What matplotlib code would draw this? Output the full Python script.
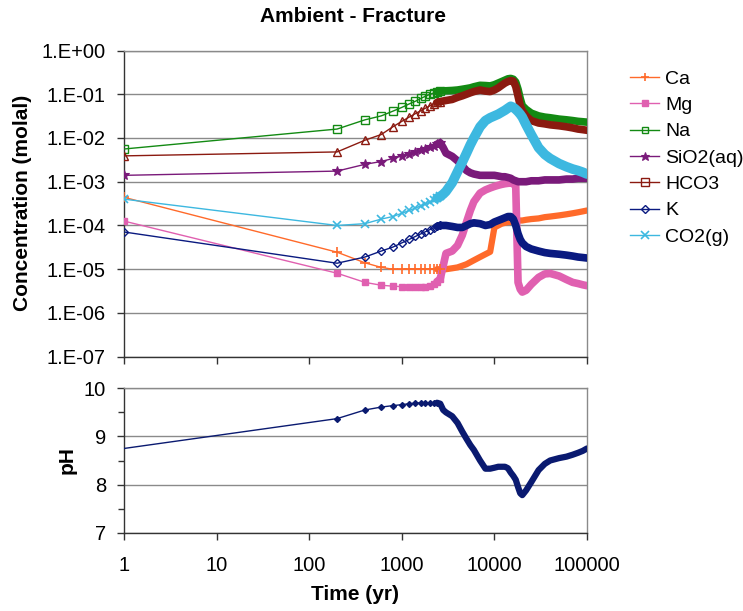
import numpy as np
import matplotlib
matplotlib.use("Agg")
import matplotlib.pyplot as plt
from matplotlib.lines import Line2D

plt.rcParams['font.family'] = ['Liberation Sans', 'DejaVu Sans']

# ---------------- data ----------------
time_yr = [1, 200, 400, 600, 800, 1000, 1200, 1400, 1600, 1800, 2000, 2200, 2400,
           2600, 2800, 3000, 3500, 4000, 4500, 5000, 5500, 6000, 7000, 8000, 9000,
           10000, 11000, 12000, 13000, 14000, 15000, 16000, 17000, 18000, 19000,
           20000, 22000, 25000, 30000, 35000, 40000, 50000, 60000, 70000, 80000,
           90000, 100000]

ca = [4.4e-4, 2.45e-5, 1.4e-5, 1.1e-5, 1.0e-5, 1.0e-5, 1.0e-5, 1.0e-5, 1.0e-5, 1.0e-5,
      1.0e-5, 1.0e-5, 1.0e-5, 1.0e-5, 1.0e-5, 1.0e-5, 1.05e-5, 1.1e-5, 1.2e-5, 1.3e-5,
      1.45e-5, 1.6e-5, 1.9e-5, 2.2e-5, 2.5e-5, 9.0e-5, 1.0e-4, 1.1e-4, 1.15e-4, 1.2e-4,
      1.2e-4, 1.25e-4, 1.25e-4, 1.3e-4, 1.3e-4, 1.3e-4, 1.35e-4, 1.4e-4, 1.45e-4, 1.55e-4,
      1.6e-4, 1.7e-4, 1.8e-4, 1.9e-4, 2.0e-4, 2.1e-4, 2.2e-4]

mg = [1.26e-4, 8.1e-6, 5.0e-6, 4.3e-6, 4.1e-6, 4.0e-6, 3.9e-6, 3.9e-6, 3.9e-6, 4.0e-6,
      4.2e-6, 4.6e-6, 5.2e-6, 6.0e-6, 1.2e-5, 2.3e-5, 2.6e-5, 3.5e-5, 6.0e-5, 1.2e-4,
      2.2e-4, 3.5e-4, 5.5e-4, 6.5e-4, 7.2e-4, 7.8e-4, 8.3e-4, 8.7e-4, 9.0e-4, 9.2e-4,
      9.3e-4, 9.0e-4, 8.0e-4, 5.0e-6, 3.5e-6, 3.0e-6, 3.3e-6, 4.5e-6, 6.5e-6, 7.8e-6,
      8.0e-6, 7.0e-6, 5.8e-6, 5.0e-6, 4.7e-6, 4.4e-6, 4.2e-6]

na = [5.6e-3, 1.6e-2, 2.6e-2, 3.2e-2, 4.1e-2, 5.0e-2, 6.0e-2, 6.9e-2, 8.0e-2, 9.0e-2,
      0.099, 0.107, 0.114, 0.118, 0.12, 0.12, 0.122, 0.125, 0.13, 0.135,
      0.14, 0.148, 0.16, 0.158, 0.155, 0.165, 0.18, 0.195, 0.21, 0.225,
      0.23, 0.22, 0.19, 0.13, 0.08, 0.055, 0.045, 0.037, 0.032, 0.030,
      0.029, 0.027, 0.026, 0.025, 0.024, 0.0235, 0.023]

sio2 = [1.4e-3, 1.75e-3, 2.5e-3, 2.9e-3, 3.4e-3, 3.9e-3, 4.3e-3, 4.7e-3, 5.2e-3, 5.7e-3,
        6.2e-3, 6.7e-3, 7.2e-3, 7.8e-3, 6.0e-3, 4.5e-3, 3.8e-3, 3.0e-3, 2.3e-3, 1.8e-3,
        1.6e-3, 1.5e-3, 1.4e-3, 1.4e-3, 1.4e-3, 1.4e-3, 1.35e-3, 1.3e-3, 1.3e-3, 1.25e-3,
        1.2e-3, 1.1e-3, 1.05e-3, 1.0e-3, 1.0e-3, 1.0e-3, 1.0e-3, 1.05e-3, 1.05e-3, 1.1e-3,
        1.1e-3, 1.1e-3, 1.15e-3, 1.15e-3, 1.2e-3, 1.2e-3, 1.2e-3]

hco3 = [3.9e-3, 4.8e-3, 8.9e-3, 1.2e-2, 1.8e-2, 2.4e-2, 3.0e-2, 3.6e-2, 4.2e-2, 4.8e-2,
        5.4e-2, 6.0e-2, 6.5e-2, 6.8e-2, 7.0e-2, 7.2e-2, 7.6e-2, 8.5e-2, 9.2e-2, 0.10,
        0.108, 0.115, 0.125, 0.118, 0.115, 0.125, 0.14, 0.16, 0.18, 0.195,
        0.205, 0.20, 0.15, 0.09, 0.055, 0.042, 0.032, 0.025, 0.022, 0.021,
        0.020, 0.019, 0.018, 0.017, 0.016, 0.0155, 0.015]

k = [7.1e-5, 1.37e-5, 1.9e-5, 2.6e-5, 3.2e-5, 4.0e-5, 4.8e-5, 5.6e-5, 6.4e-5, 7.2e-5,
     8.0e-5, 8.8e-5, 9.5e-5, 1.0e-4, 1.0e-4, 1.0e-4, 9.5e-5, 9.0e-5, 9.0e-5, 1.0e-4,
     1.1e-4, 1.15e-4, 1.1e-4, 1.0e-4, 1.05e-4, 1.2e-4, 1.3e-4, 1.4e-4, 1.5e-4, 1.6e-4,
     1.6e-4, 1.4e-4, 1.0e-4, 6.5e-5, 4.8e-5, 4.0e-5, 3.3e-5, 2.9e-5, 2.6e-5, 2.4e-5,
     2.3e-5, 2.2e-5, 2.1e-5, 2.0e-5, 1.9e-5, 1.85e-5, 1.8e-5]

co2 = [4.0e-4, 1.0e-4, 1.1e-4, 1.4e-4, 1.6e-4, 1.9e-4, 2.2e-4, 2.5e-4, 2.8e-4, 3.1e-4,
       3.4e-4, 3.8e-4, 4.2e-4, 4.6e-4, 5.2e-4, 6.0e-4, 9.5e-4, 1.7e-3, 2.8e-3, 4.5e-3,
       7.0e-3, 1.0e-2, 1.8e-2, 2.5e-2, 2.9e-2, 3.2e-2, 3.5e-2, 3.9e-2, 4.3e-2, 4.8e-2,
       5.3e-2, 5.0e-2, 4.5e-2, 4.0e-2, 3.5e-2, 3.0e-2, 2.0e-2, 1.2e-2, 6.0e-3, 4.2e-3,
       3.4e-3, 2.6e-3, 2.2e-3, 1.95e-3, 1.8e-3, 1.65e-3, 1.5e-3]

ph = [8.75, 9.37, 9.55, 9.61, 9.64, 9.66, 9.68, 9.69, 9.70, 9.70,
      9.70, 9.70, 9.70, 9.68, 9.55, 9.50, 9.42, 9.28, 9.10, 8.95,
      8.82, 8.72, 8.50, 8.33, 8.33, 8.35, 8.37, 8.37, 8.37, 8.34,
      8.25, 8.18, 8.10, 7.95, 7.82, 7.78, 7.88, 8.05, 8.30, 8.43,
      8.50, 8.55, 8.58, 8.62, 8.66, 8.70, 8.75]

series_names = ['Ca', 'Mg', 'Na', 'SiO2(aq)', 'HCO3', 'K', 'CO2(g)']
conc_ticks = [1e0, 1e-1, 1e-2, 1e-3, 1e-4, 1e-5, 1e-6, 1e-7]
conc_tick_labels = ['1.E+00', '1.E-01', '1.E-02', '1.E-03', '1.E-04', '1.E-05', '1.E-06', '1.E-07']
time_ticks = [1, 10, 100, 1000, 10000, 100000]
time_tick_labels = ['1', '10', '100', '1000', '10000', '100000']
ph_ticks = [7, 8, 9, 10]

# ---------------- styles ----------------
styles = {
    'Ca':       dict(color='#FF6A2A', marker='+', mfc='#FF6A2A', ms=7, mew=1.2),
    'Mg':       dict(color='#E060B0', marker='s', mfc='#E060B0', ms=5, mew=1.0),
    'Na':       dict(color='#138A13', marker='s', mfc='none', ms=5.5, mew=1.0),
    'SiO2(aq)': dict(color='#7A1A7A', marker='*', mfc='#7A1A7A', ms=7, mew=0.8),
    'HCO3':     dict(color='#8B1A10', marker='^', mfc='none', ms=6, mew=1.0),
    'K':        dict(color='#0A1A80', marker='D', mfc='none', ms=4.5, mew=1.0),
    'CO2(g)':   dict(color='#3DB8E0', marker='x', mfc='#3DB8E0', ms=6, mew=1.2),
}
legend_markers = {'HCO3': 's'}
band_width = {'CO2(g)': 7.0, 'Ca': 4.5}

data = {'Ca': ca, 'Mg': mg, 'Na': na, 'SiO2(aq)': sio2, 'HCO3': hco3,
        'K': k, 'CO2(g)': co2}

W, H = 743, 611
fig = plt.figure(figsize=(W / 100, H / 100), dpi=100)

def frac(x0, y0, x1, y1):
    return [x0 / W, 1 - y1 / H, (x1 - x0) / W, (y1 - y0) / H]

ax1 = fig.add_axes(frac(124, 50.5, 587, 356.7))
ax2 = fig.add_axes(frac(124, 388.3, 587, 532.7))

t = np.array(time_yr, dtype=float)
sparse = t <= 2600
dense = t >= 2400
grid_color = '#8a8a8a'

for name in series_names:
    st = styles[name]
    v = np.array(data[name], dtype=float)
    ax1.plot(t, v, color=st['color'], lw=1.0, zorder=3)
    ax1.plot(t[sparse], v[sparse], ls='none', marker=st['marker'], ms=st['ms'],
             mfc=st['mfc'], mec=st['color'], mew=st['mew'], zorder=4)
    ax1.plot(t[dense], v[dense], color=st['color'], lw=band_width.get(name, 5.5),
             solid_capstyle='round', solid_joinstyle='round', zorder=3)

ph_arr = np.array(ph, dtype=float)
ph_color = '#0A1A70'
ax2.plot(t, ph_arr, color=ph_color, lw=1.0, zorder=3)
ax2.plot(t[1:13], ph_arr[1:13], ls='none', marker='D', ms=3, color=ph_color, zorder=4)
ax2.plot(t[dense], ph_arr[dense], color=ph_color, lw=4.5,
         solid_capstyle='round', solid_joinstyle='round', zorder=3)

for ax in (ax1, ax2):
    ax.set_xscale('log')
    ax.set_xlim(1, 100000)
    ax.set_xticks(time_ticks)
    ax.xaxis.set_minor_locator(matplotlib.ticker.NullLocator())
    ax.yaxis.grid(True, which='major', color=grid_color, lw=1.0)
    ax.set_axisbelow(True)
    for s in ('top', 'right'):
        ax.spines[s].set_color(grid_color)
        ax.spines[s].set_linewidth(1.0)
    for s in ('left', 'bottom'):
        ax.spines[s].set_color('#333333')
        ax.spines[s].set_linewidth(1.0)
    ax.tick_params(axis='both', which='both', direction='out', length=5,
                   width=1, color='#333333', labelsize=14.5, pad=5)

ax1.set_yscale('log')
ax1.set_ylim(1e-7, 1)
ax1.set_yticks(conc_ticks)
ax1.set_yticklabels(conc_tick_labels)
ax1.yaxis.set_minor_locator(matplotlib.ticker.NullLocator())
ax1.set_xticklabels([])
ax1.tick_params(axis='y', pad=8)

ax2.set_ylim(7, 10)
ax2.set_yticks(ph_ticks)
ax2.set_yticks([7.5, 8.5, 9.5], minor=True)
ax2.set_xticklabels(time_tick_labels)
ax2.tick_params(axis='y', which='minor', length=4)
ax2.tick_params(axis='y', pad=8)
ax2.tick_params(axis='x', pad=12)

fig.text(353.5 / W, 1 - 17 / H, 'Ambient - Fracture', ha='center', va='center',
         fontsize=15, fontweight='bold')
fig.text(23 / W, 1 - 203 / H, 'Concentration (molal)', ha='center', va='center',
         rotation=90, fontsize=15, fontweight='bold')
fig.text(67 / W, 1 - 460 / H, 'pH', ha='center', va='center',
         rotation=90, fontsize=15, fontweight='bold')
fig.text(355 / W, 1 - 595 / H, 'Time (yr)', ha='center', va='center',
         fontsize=15, fontweight='bold')

handles = []
for name in series_names:
    st = styles[name]
    handles.append(Line2D([], [], color=st['color'], lw=1.0,
                          marker=legend_markers.get(name, st['marker']),
                          ms=st['ms'] * 0.9, mfc=st['mfc'], mec=st['color'],
                          mew=st['mew']))
fig.legend(handles, series_names, loc='upper left',
           bbox_to_anchor=(630 / W, 1 - 70 / H), frameon=False, fontsize=14,
           handlelength=1.5, handletextpad=0.3, labelspacing=0.45,
           borderaxespad=0, borderpad=0)

fig.savefig('out.png', dpi=100)
